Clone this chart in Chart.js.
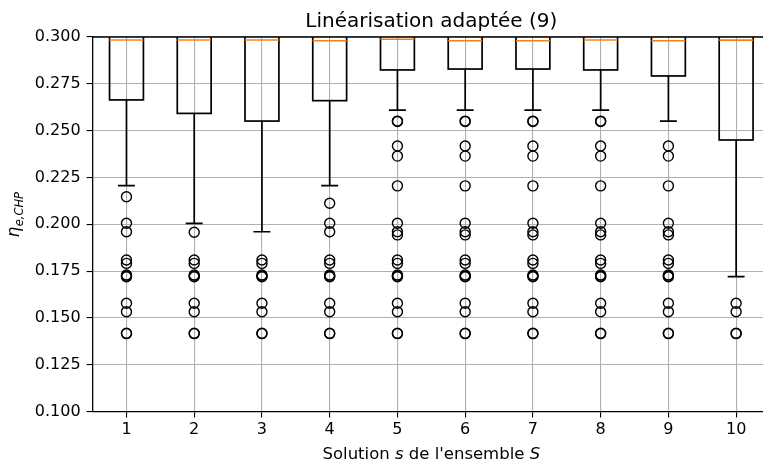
<!DOCTYPE html>
<html>
<head>
<meta charset="utf-8">
<script src="https://cdn.jsdelivr.net/npm/chart.js@4/dist/chart.umd.min.js"></script>
<style>
  html, body { margin: 0; padding: 0; background: #fff; overflow: hidden; }
  #wrap { width: 780px; height: 465px; }
</style>
</head>
<body>
<div id="wrap"><canvas id="box" width="780" height="465"></canvas></div>
<script>
// solutions s of the ensemble
const solutions = [1, 2, 3, 4, 5, 6, 7, 8, 9, 10];
const yTicks = [0.100, 0.125, 0.150, 0.175, 0.200, 0.225, 0.250, 0.275, 0.300];

// box statistics (upper quartile and upper whisker sit above the visible range)
const q1 = [0.2664, 0.2592, 0.2551, 0.2660, 0.2824, 0.2829, 0.2829, 0.2824, 0.2792, 0.2450];
const medians = [0.2984, 0.2984, 0.2984, 0.2980, 0.2988, 0.2980, 0.2980, 0.2984, 0.2980, 0.2983];
const q3 = [0.3010, 0.3010, 0.3010, 0.3010, 0.3010, 0.3010, 0.3010, 0.3010, 0.3010, 0.3010];
const whiskerLow = [0.2206, 0.2005, 0.1960, 0.2206, 0.2610, 0.2610, 0.2610, 0.2610, 0.2551, 0.1720];
const whiskerHigh = [0.3050, 0.3050, 0.3050, 0.3050, 0.3050, 0.3050, 0.3050, 0.3050, 0.3050, 0.3050];

// outliers per solution
const fliers = [
  [0.2147, 0.2005, 0.1960, 0.1809, 0.1791, 0.1729, 0.1722, 0.1720, 0.1578, 0.1533, 0.1418, 0.1416],
  [0.1957, 0.1809, 0.1791, 0.1729, 0.1722, 0.1720, 0.1578, 0.1533, 0.1418, 0.1416],
  [0.1809, 0.1791, 0.1729, 0.1722, 0.1720, 0.1578, 0.1533, 0.1418, 0.1416],
  [0.2112, 0.2005, 0.1960, 0.1809, 0.1791, 0.1729, 0.1722, 0.1720, 0.1578, 0.1533, 0.1418, 0.1416],
  [0.2551, 0.2549, 0.2418, 0.2364, 0.2205, 0.2005, 0.1960, 0.1943, 0.1809, 0.1791, 0.1729, 0.1722, 0.1720, 0.1578, 0.1533, 0.1418, 0.1416],
  [0.2551, 0.2549, 0.2418, 0.2364, 0.2205, 0.2005, 0.1960, 0.1943, 0.1809, 0.1791, 0.1729, 0.1722, 0.1720, 0.1578, 0.1533, 0.1418, 0.1416],
  [0.2551, 0.2549, 0.2418, 0.2364, 0.2205, 0.2005, 0.1960, 0.1943, 0.1809, 0.1791, 0.1729, 0.1722, 0.1720, 0.1578, 0.1533, 0.1418, 0.1416],
  [0.2551, 0.2549, 0.2418, 0.2364, 0.2205, 0.2005, 0.1960, 0.1943, 0.1809, 0.1791, 0.1729, 0.1722, 0.1720, 0.1578, 0.1533, 0.1418, 0.1416],
  [0.2418, 0.2364, 0.2205, 0.2005, 0.1960, 0.1943, 0.1809, 0.1791, 0.1729, 0.1722, 0.1720, 0.1578, 0.1533, 0.1418, 0.1416],
  [0.1578, 0.1533, 0.1418, 0.1416]
];

const FONT = 'DejaVu Sans';
const boxWidth = 0.5;

const flierPoints = [];
solutions.forEach((s, i) => fliers[i].forEach(v => flierPoints.push({ x: s, y: v })));

const boxPlugin = {
  id: 'boxes',
  beforeDatasetsDraw(chart) {
    const { ctx, chartArea, scales: { x, y } } = chart;
    ctx.save();
    ctx.beginPath();
    ctx.rect(chartArea.left, chartArea.top, chartArea.right - chartArea.left, chartArea.bottom - chartArea.top);
    ctx.clip();
    ctx.lineWidth = 1.7;
    solutions.forEach((s, i) => {
      const cx = x.getPixelForValue(s);
      const half = x.getPixelForValue(s + boxWidth / 2) - cx;
      const capHalf = half / 2;
      const yq1 = y.getPixelForValue(q1[i]);
      const yq3 = y.getPixelForValue(q3[i]);
      const ylo = y.getPixelForValue(whiskerLow[i]);
      const yhi = y.getPixelForValue(whiskerHigh[i]);
      const ymed = y.getPixelForValue(medians[i]);
      ctx.strokeStyle = '#000';
      ctx.beginPath();
      ctx.moveTo(cx, yq1); ctx.lineTo(cx, ylo);
      ctx.moveTo(cx - capHalf, ylo); ctx.lineTo(cx + capHalf, ylo);
      ctx.moveTo(cx, yq3); ctx.lineTo(cx, yhi);
      ctx.moveTo(cx - capHalf, yhi); ctx.lineTo(cx + capHalf, yhi);
      ctx.stroke();
      ctx.strokeRect(cx - half, yq3, half * 2, yq1 - yq3);
      ctx.strokeStyle = '#ff7f0e';
      ctx.beginPath();
      ctx.moveTo(cx - half, ymed); ctx.lineTo(cx + half, ymed);
      ctx.stroke();
    });
    ctx.restore();
  },
  afterDraw(chart) {
    const { ctx, chartArea } = chart;
    const midX = (chartArea.left + chartArea.right) / 2;
    ctx.save();
    // top spine
    ctx.strokeStyle = '#000';
    ctx.lineWidth = 1.3;
    ctx.beginPath();
    ctx.moveTo(chartArea.left, chartArea.top);
    ctx.lineTo(chartArea.right, chartArea.top);
    ctx.stroke();

    ctx.fillStyle = '#000';
    ctx.textBaseline = 'alphabetic';
    // title
    ctx.font = '20px ' + FONT;
    ctx.textAlign = 'center';
    ctx.fillText('Linéarisation adaptée (9)', midX, 27);

    // x label with italic parts
    const parts = [
      ['Solution ', 'normal 16.5px ' + FONT],
      ['s', 'italic 16.5px ' + FONT],
      [" de l'ensemble ", 'normal 16.5px ' + FONT],
      ['S', 'italic 16.5px ' + FONT]
    ];
    let total = 0;
    parts.forEach(p => { ctx.font = p[1]; total += ctx.measureText(p[0]).width; });
    let px = midX - total / 2;
    ctx.textAlign = 'left';
    parts.forEach(p => { ctx.font = p[1]; ctx.fillText(p[0], px, 459); px += ctx.measureText(p[0]).width; });

    // y label: eta with subscript
    ctx.translate(19, 215);
    ctx.rotate(-Math.PI / 2);
    ctx.font = 'italic 17px ' + FONT;
    const w1 = ctx.measureText('η').width;
    ctx.font = 'italic 11.5px ' + FONT;
    const w2 = ctx.measureText('e,CHP').width;
    let sx = -(w1 + w2) / 2;
    ctx.font = 'italic 17px ' + FONT;
    ctx.fillText('η', sx, 0);
    ctx.font = 'italic 11.5px ' + FONT;
    ctx.fillText('e,CHP', sx + w1 + 0.5, 3.5);
    ctx.restore();
  }
};

new Chart(document.getElementById('box'), {
  type: 'scatter',
  data: {
    datasets: [{
      label: 'outliers',
      data: flierPoints,
      pointStyle: 'circle',
      pointRadius: 5,
      borderWidth: 1.4,
      borderColor: '#000',
      backgroundColor: 'rgba(0,0,0,0)',
      showLine: false
    }]
  },
  options: {
    responsive: false,
    animation: false,
    devicePixelRatio: 1,
    events: [],
    layout: { padding: { top: 37, right: 10, left: 0, bottom: 0 } },
    plugins: {
      legend: { display: false },
      tooltip: { enabled: false },
      title: { display: false }
    },
    scales: {
      x: {
        type: 'linear',
        min: 0.5,
        max: 10.5,
        afterBuildTicks: s => { s.ticks = solutions.map(v => ({ value: v })); },
        afterFit: s => { s.height = 53.5; },
        ticks: {
          font: { family: FONT, size: 16 },
          color: '#000',
          padding: 3,
          maxRotation: 0,
          autoSkip: false,
          callback: v => String(v)
        },
        grid: { color: '#b0b0b0', lineWidth: 1.1, tickColor: '#000', tickLength: 6 },
        border: { color: '#000', width: 1.3 }
      },
      y: {
        type: 'linear',
        min: 0.1,
        max: 0.3,
        afterBuildTicks: s => { s.ticks = yTicks.map(v => ({ value: v })); },
        afterFit: s => { s.width = 92.6; },
        ticks: {
          font: { family: FONT, size: 16 },
          color: '#000',
          padding: 6,
          autoSkip: false,
          callback: v => Number(v).toFixed(3)
        },
        grid: { color: '#b0b0b0', lineWidth: 1.1, tickColor: '#000', tickLength: 6 },
        border: { color: '#000', width: 1.3 }
      }
    }
  },
  plugins: [boxPlugin]
});
</script>
</body>
</html>
